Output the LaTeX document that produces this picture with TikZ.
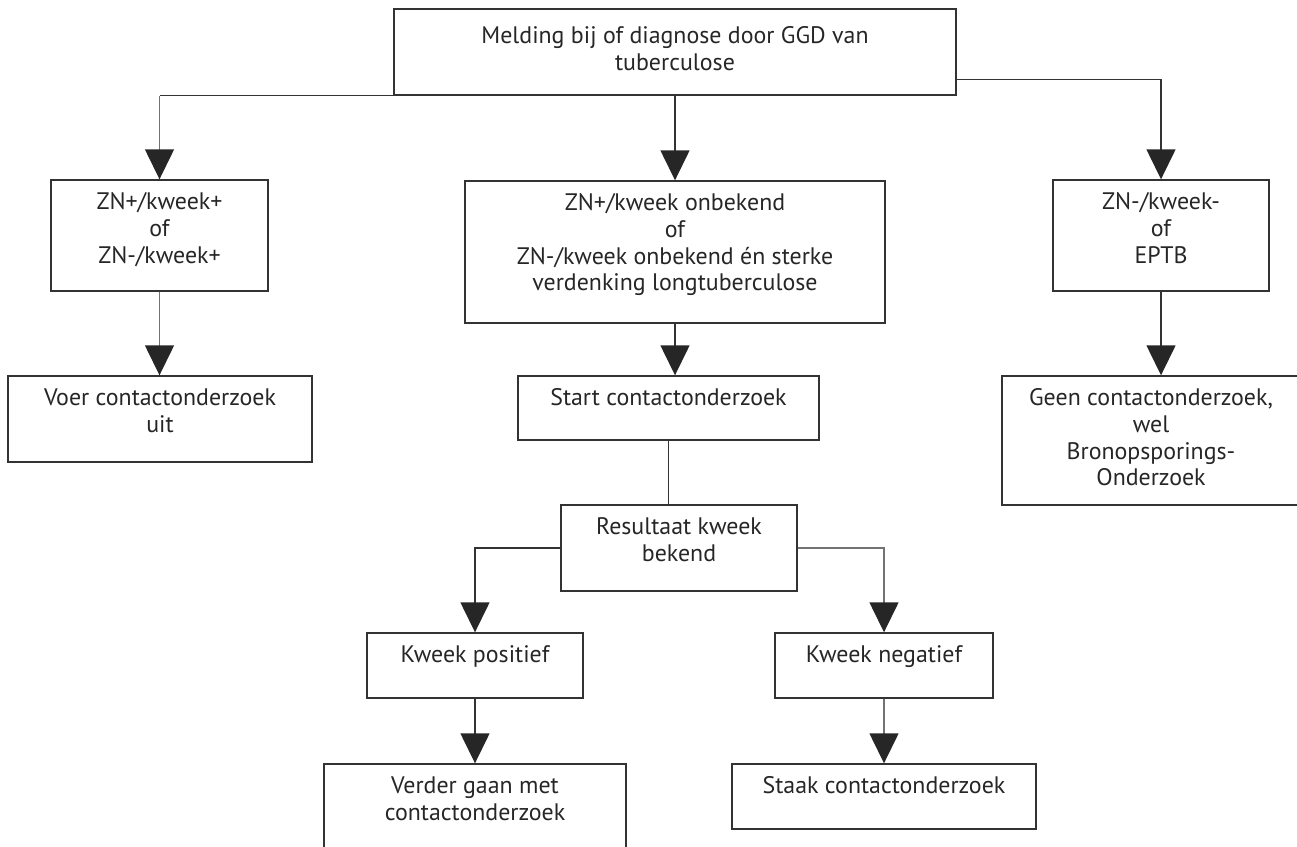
\documentclass[tikz,border=0pt]{standalone}
\usepackage{fontspec}
\setmainfont{PT Sans}
\usetikzlibrary{arrows.meta}

\begin{document}
\begin{tikzpicture}[x=0.02cm, y=-0.02cm,
		vak/.style={draw=black!80, line width=0.8pt, inner sep=0pt},
		tekst/.style={anchor=north, align=center, inner sep=0pt, yshift=-0.26cm, text=black!85, font=\fontsize{13.6}{15.2}\selectfont},
		lijn/.style={draw=black!80, line width=0.8pt},
		pijl/.style={lijn, -{Triangle[width=0.58cm, length=0.6cm, color=black!85]}},
		grijs/.style={draw=black!55}]
			\useasboundingbox (0,0) rectangle (1297,847);

			\node[vak, minimum width=11.24cm, minimum height=1.72cm, label={[tekst, yshift=-0.1cm]north:{Melding bij of diagnose door GGD van\\tuberculose}}] (melding) at (675,52) {};

			\node[vak, minimum width=4.34cm, minimum height=2.22cm, label={[tekst]north:{ZN+/kweek+\\of\\ZN-/kweek+}}] (links) at (159.5,235.5) {};
			\node[vak, minimum width=8.40cm, minimum height=2.84cm, label={[tekst]north:{ZN+/kweek onbekend\\of\\ZN-/kweek onbekend én sterke\\verdenking longtuberculose}}] (midden) at (675,252) {};
			\node[vak, minimum width=4.32cm, minimum height=2.22cm, label={[tekst]north:{ZN-/kweek-\\of\\EPTB}}] (rechts) at (1161,235.5) {};

			\node[vak, minimum width=6.08cm, minimum height=1.72cm, label={[tekst]north:{Voer contactonderzoek\\uit}}] (voer) at (160,419) {};
			\node[vak, minimum width=6.02cm, minimum height=1.28cm, label={[tekst]north:{Start contactonderzoek}}] (start) at (668.5,408) {};
			\node[vak, minimum width=5.96cm, minimum height=2.58cm, label={[tekst]north:{Geen contactonderzoek,\\wel\\Bronopsporings-\\Onderzoek}}] (geen) at (1151,440.5) {};

			\node[vak, minimum width=4.72cm, minimum height=1.72cm, label={[tekst]north:{Resultaat kweek\\bekend}}] (resultaat) at (679,548) {};
			\node[vak, minimum width=4.32cm, minimum height=1.30cm, label={[tekst]north:{Kweek positief}}] (positief) at (475,665.5) {};
			\node[vak, minimum width=4.36cm, minimum height=1.30cm, label={[tekst]north:{Kweek negatief}}] (negatief) at (884,665.5) {};
			\node[vak, minimum width=6.04cm, minimum height=1.72cm, label={[tekst]north:{Verder gaan met\\contactonderzoek}}] (verder) at (475,807) {};
			\node[vak, minimum width=6.08cm, minimum height=1.30cm, label={[tekst]north:{Staak contactonderzoek}}] (staak) at (884,796.5) {};

			\draw[lijn] (melding.south west) -- (melding.south west -| links.north); % naar links
			\draw[pijl, grijs] (melding.south west -| links.north) -- (links.north);
			\draw[pijl] (melding.south) -- (midden.north); % midden
			\draw[pijl] (melding.south east) ++(0,-16) -| (rechts.north); % naar rechts

			\draw[pijl, grijs] (links.south) -- (links.south |- voer.north);
			\draw[pijl] (midden.south) -- (midden.south |- start.north);
			\draw[pijl] (rechts.south) -- (rechts.south |- geen.north);

			\draw[lijn] (start.south) -- (start.south |- resultaat.north);
			\draw[pijl] (resultaat.west) -| (positief.north); % positief
			\draw[pijl, grijs] (resultaat.east) -| (negatief.north); % negatief
			\draw[pijl] (positief.south) -- (verder.north);
			\draw[pijl, grijs] (negatief.south) -- (staak.north);
\end{tikzpicture}
\end{document}
